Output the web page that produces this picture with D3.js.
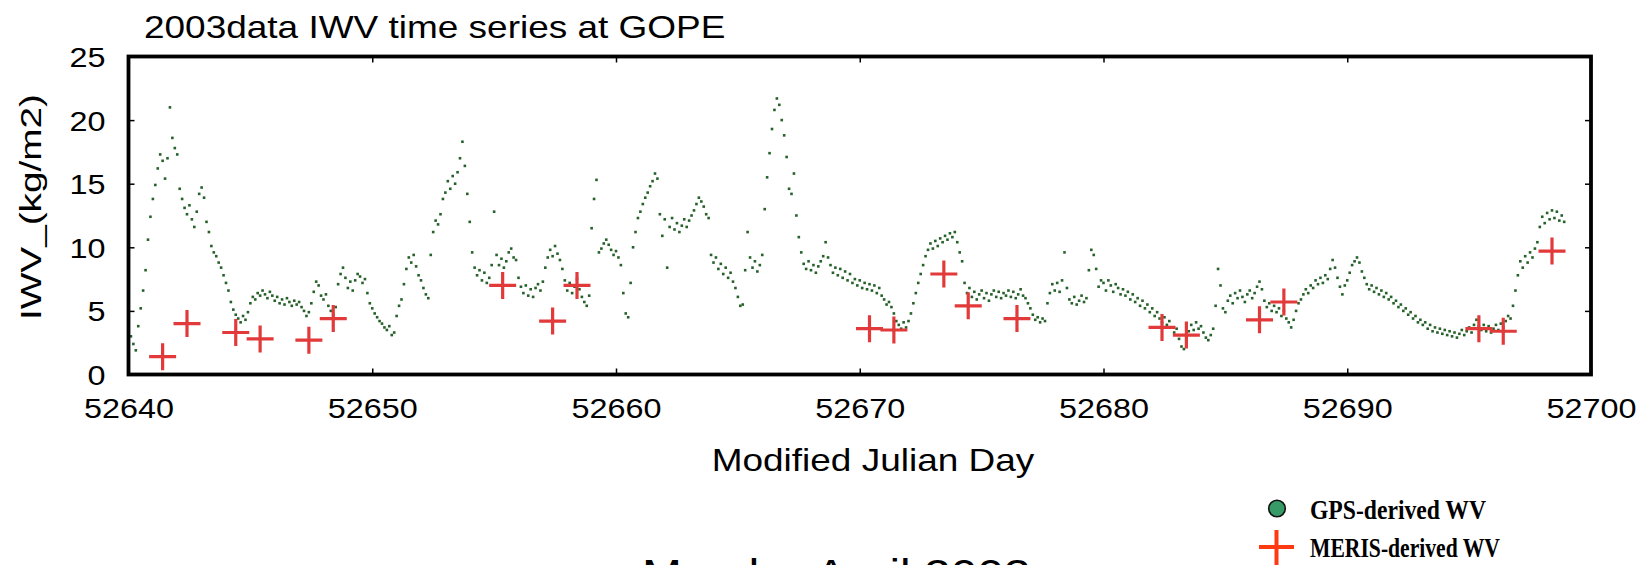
<!DOCTYPE html>
<html>
<head>
<meta charset="utf-8">
<script src="https://cdn.jsdelivr.net/npm/d3@7"></script>
<style>
  body { margin: 0; background: #fff; }
  svg { display: block; }
  .tick line { stroke: #000; stroke-width: 1.5; }
  .tick text { font-family: "Liberation Sans", Arial, sans-serif; font-size: 28px; fill: #000; }
</style>
</head>
<body>
<div id="chart"></div>
<script>
// time axis (Modified Julian Day) and IWV axis
var xTicks = [52640, 52650, 52660, 52670, 52680, 52690, 52700];
var yTicks = [0, 5, 10, 15, 20, 25];

// GPS IWV, 10 samples per day starting at 52640.0
var gpsStart = 52640;
var gpsPerDay = 10;
var gpsIWV = [
  3.4, 3.0, 2.4, 1.9, 3.8, 5.2, 6.6, 8.2, 10.6, 12.4,        // 52640
  13.8, 14.9, 16.2, 17.3, 16.8, 15.4, 17.0, 21.0, 18.6, 17.8, // 52641
  17.3, 14.6, 13.8, 13.1, 12.6, 13.3, 12.2, 11.6, 12.8, 14.2, // 52642
  14.7, 13.9, 12.0, 11.2, 10.1, 9.6, 9.3, 8.8, 8.4, 7.8,      // 52643
  7.2, 6.6, 5.7, 5.1, 4.7, 4.4, 4.1, 4.6, 4.3, 4.9,           // 52644
  5.6, 6.1, 5.9, 6.4, 6.2, 6.6, 6.3, 6.0, 6.5, 6.2,           // 52645
  5.8, 6.1, 5.6, 5.9, 5.5, 6.0, 5.7, 5.4, 5.8, 5.5,           // 52646
  5.7, 5.3, 5.0, 4.6, 4.9, 5.6, 6.5, 7.3, 7.0, 6.2,           // 52647
  5.9, 6.3, 5.4, 5.0, 4.7, 5.3, 7.1, 7.9, 8.4, 7.6,           // 52648
  6.8, 7.3, 6.6, 7.4, 7.9, 7.7, 7.2, 7.5, 6.4, 5.6,           // 52649
  5.2, 4.8, 4.5, 4.2, 4.0, 3.7, 3.5, 3.8, 3.1, 3.3,           // 52650
  4.6, 5.4, 5.9, 7.1, 8.3, 9.2, 8.8, 9.4, 8.5, 7.8,           // 52651
  7.4, 6.8, 6.3, 6.0, 9.4, 11.2, 12.1, 11.8, 12.6, 13.8,      // 52652
  14.3, 15.2, 14.6, 15.6, 15.0, 15.9, 17.0, 18.3, 16.4, 14.2, // 52653
  12.0, 9.6, 8.4, 7.8, 8.2, 7.4, 8.0, 7.2, 7.6, 8.6,          // 52654
  12.8, 9.4, 8.6, 9.1, 8.4, 8.9, 9.6, 9.9, 9.2, 9.0,          // 52655
  7.6, 6.9, 6.4, 7.0, 6.2, 6.7, 6.1, 6.8, 7.1, 6.6,           // 52656
  7.3, 8.4, 9.2, 9.8, 9.3, 10.1, 9.5, 9.0, 8.3, 7.4,          // 52657
  6.6, 7.2, 6.4, 6.9, 7.5, 6.7, 6.1, 5.7, 5.4, 6.2,           // 52658
  11.5, 13.8, 15.3, 9.6, 9.9, 10.3, 10.6, 10.2, 9.8, 9.4,     // 52659
  9.7, 9.2, 8.6, 6.4, 4.8, 4.5, 7.2, 10.0, 11.2, 12.3,        // 52660
  12.8, 13.4, 13.9, 14.3, 14.8, 15.2, 15.8, 15.4, 12.6, 10.9, // 52661
  12.2, 8.4, 11.6, 12.3, 11.4, 11.9, 11.2, 11.7, 12.2, 11.6,  // 52662
  12.1, 12.5, 12.9, 13.4, 13.9, 13.6, 13.2, 12.6, 12.3, 9.4,  // 52663
  8.8, 9.2, 8.3, 8.7, 7.9, 8.4, 7.6, 8.0, 7.3, 6.8,           // 52664
  6.1, 5.4, 5.5, 8.2, 11.2, 9.2, 8.4, 8.9, 8.1, 8.6,          // 52665
  9.4, 13.0, 15.5, 17.4, 19.3, 20.8, 21.7, 21.2, 20.0, 18.8,  // 52666
  17.1, 14.6, 14.2, 15.8, 12.5, 10.8, 9.6, 8.7, 8.3, 8.9,     // 52667
  8.2, 8.6, 8.0, 8.5, 8.9, 9.3, 10.4, 9.2, 8.6, 8.0,          // 52668
  8.4, 7.8, 8.3, 7.6, 8.1, 7.4, 7.9, 7.2, 7.5, 7.0,           // 52669
  7.4, 6.8, 7.2, 6.7, 7.1, 6.6, 7.0, 6.4, 6.8, 6.2,           // 52670
  5.9, 5.5, 5.7, 5.3, 4.8, 4.2, 3.9, 3.6, 4.1, 3.7,           // 52671
  4.2, 4.8, 5.6, 6.4, 7.2, 7.9, 8.6, 9.3, 9.8, 10.3,          // 52672
  9.9, 10.5, 10.1, 10.7, 10.4, 10.9, 10.6, 11.1, 10.8, 11.2,  // 52673
  10.4, 9.6, 8.9, 7.2, 6.4, 6.8, 6.1, 6.5, 5.9, 6.3,          // 52674
  6.6, 6.0, 6.4, 5.8, 6.3, 6.6, 6.1, 6.5, 6.0, 6.4,           // 52675
  6.2, 6.6, 6.1, 6.5, 6.0, 6.3, 6.7, 6.2, 6.0, 5.6,           // 52676
  5.2, 4.7, 4.3, 4.5, 4.1, 4.4, 4.2, 5.6, 6.4, 7.1,           // 52677
  6.6, 7.2, 6.5, 7.4, 9.6, 6.8, 5.9, 5.6, 6.1, 5.5,           // 52678
  5.8, 6.2, 5.7, 6.0, 8.2, 9.8, 9.4, 8.3, 6.9, 7.4,           // 52679
  7.2, 6.6, 7.4, 7.0, 6.5, 7.1, 6.8, 6.3, 6.7, 6.2,           // 52680
  6.5, 5.9, 6.3, 5.7, 6.0, 5.4, 5.8, 5.2, 5.5, 4.9,           // 52681
  5.2, 4.6, 4.9, 4.4, 4.1, 4.5, 3.9, 4.2, 3.7, 3.3,           // 52682
  3.6, 2.8, 2.2, 2.0, 2.6, 3.4, 3.9, 3.5, 4.1, 3.6,           // 52683
  3.8, 3.3, 2.9, 2.7, 3.1, 3.6, 5.4, 8.3, 7.0, 5.2,           // 52684
  4.9, 5.8, 6.2, 5.6, 6.4, 6.0, 6.6, 6.1, 5.7, 6.3,           // 52685
  6.6, 6.0, 6.4, 6.9, 7.3, 6.7, 5.8, 5.3, 5.6, 5.0,           // 52686
  5.4, 4.9, 5.2, 4.6, 5.0, 4.4, 4.1, 3.7, 4.3, 5.0,           // 52687
  5.6, 5.9, 6.3, 6.7, 6.4, 7.0, 6.8, 7.4, 7.1, 7.6,           // 52688
  7.2, 7.8, 7.5, 8.3, 9.0, 8.4, 7.6, 6.9, 6.3, 7.0,           // 52689
  7.4, 8.0, 8.6, 8.9, 9.2, 8.8, 8.1, 7.6, 7.1, 6.7,           // 52690
  7.0, 6.5, 6.8, 6.3, 6.6, 6.1, 6.4, 5.9, 6.1, 5.6,           // 52691
  5.8, 5.3, 5.5, 5.0, 5.2, 4.7, 4.9, 4.4, 4.6, 4.1,           // 52692
  4.3, 3.9, 4.1, 3.6, 3.9, 3.4, 3.7, 3.3, 3.6, 3.2,           // 52693
  3.5, 3.1, 3.4, 3.0, 3.3, 2.9, 3.2, 3.5, 3.1, 3.4,           // 52694
  3.7, 3.3, 3.9, 4.3, 3.8, 3.5, 3.9, 3.4, 3.8, 3.3,           // 52695
  3.6, 3.9, 3.5, 4.0, 3.7, 4.2, 4.6, 4.4, 5.4, 6.6,           // 52696
  7.8, 8.9, 8.4, 9.3, 8.8, 9.6, 9.2, 9.9, 10.4, 11.6,         // 52697
  12.4, 11.9, 12.7, 12.2, 12.9, 12.3, 12.8, 12.1, 12.5, 12.0  // 52698
];

// MERIS overpasses
var merisDay = [52641.4, 52642.4, 52644.4, 52645.4, 52647.4, 52648.4, 52655.35,
                52657.4, 52658.4, 52670.4, 52671.4, 52673.45, 52674.45, 52676.45,
                52682.4, 52683.4, 52686.4, 52687.4, 52695.4, 52696.4, 52698.4];
var merisIWV = [1.4, 4.0, 3.3, 2.8, 2.7, 4.4, 7.0,
                4.2, 7.0, 3.6, 3.5, 7.9, 5.4, 4.4,
                3.7, 3.1, 4.3, 5.7, 3.6, 3.4, 9.7];

var legendLabels = ["GPS-derived WV", "MERIS-derived WV"];
var legendWidths = [176, 190];

var W = 1641, H = 565;
var plot = {left: 128.5, right: 1591, top: 56.5, bottom: 374.5};
var stretchK = 1.155;   // the source fonts are drawn a bit wide

var svg = d3.select("#chart").append("svg")
    .attr("width", W)
    .attr("height", H)
    .style("background", "#fff");

var x = d3.scaleLinear().domain([52640, 52700]).range([plot.left, plot.right]);
var y = d3.scaleLinear().domain([0, 25]).range([plot.bottom, plot.top]);

// widen text like the original (Arial drawn wide)
function stretch(sel, k) {
  sel.each(function() {
    var w = this.getComputedTextLength();
    d3.select(this).attr("textLength", w * k).attr("lengthAdjust", "spacingAndGlyphs");
  });
}

// gps points
var gps = gpsIWV.map(function(v, i) { return {d: gpsStart + i / gpsPerDay, v: v}; });
svg.append("g")
    .selectAll("rect")
    .data(gps)
    .enter().append("rect")
      .attr("x", function(d) { return x(d.d) - 1.3; })
      .attr("y", function(d) { return y(d.v) - 1.3; })
      .attr("width", 2.6)
      .attr("height", 2.6)
      .attr("fill", "#26612a");

// meris crosses
var meris = merisDay.map(function(d, i) { return {d: d, v: merisIWV[i]}; });
svg.append("g").selectAll("path")
    .data(meris)
    .enter().append("path")
      .attr("d", function(d) {
        var cx = x(d.d), cy = y(d.v), r = 13.5;
        return "M" + (cx - r) + "," + cy + "H" + (cx + r) + "M" + cx + "," + (cy - r) + "V" + (cy + r);
      })
      .attr("stroke", "#e23a3a")
      .attr("stroke-width", 3.2)
      .attr("fill", "none");

// axes with inward ticks
var xAxis = svg.append("g")
    .attr("transform", "translate(0," + plot.bottom + ")")
    .call(d3.axisBottom(x).tickValues(xTicks).tickSize(-6).tickFormat(d3.format("d")));
xAxis.select(".domain").remove();
xAxis.selectAll("text").attr("y", 43).attr("dy", 0);
stretch(xAxis.selectAll("text"), stretchK);

var xTop = svg.append("g")
    .attr("transform", "translate(0," + plot.top + ")")
    .call(d3.axisTop(x).tickValues(xTicks).tickSize(-6).tickFormat(""));
xTop.select(".domain").remove();

var yAxis = svg.append("g")
    .attr("transform", "translate(" + plot.left + ",0)")
    .call(d3.axisLeft(y).tickValues(yTicks).tickSize(-6));
yAxis.select(".domain").remove();
yAxis.selectAll("text").attr("x", -23).attr("dy", "0.36em");
stretch(yAxis.selectAll("text"), stretchK);

var yRight = svg.append("g")
    .attr("transform", "translate(" + plot.right + ",0)")
    .call(d3.axisRight(y).tickValues(yTicks).tickSize(-6).tickFormat(""));
yRight.select(".domain").remove();

// frame
svg.append("rect")
    .attr("x", plot.left)
    .attr("y", plot.top)
    .attr("width", plot.right - plot.left)
    .attr("height", plot.bottom - plot.top)
    .attr("fill", "none")
    .attr("stroke", "#000")
    .attr("stroke-width", 3.8);

// titles
var sans = "'Liberation Sans', Arial, sans-serif";
var title = svg.append("text")
    .attr("x", 144)
    .attr("y", 38)
    .style("font-family", sans)
    .style("font-size", "32px")
    .text("2003data IWV time series at GOPE");
stretch(title, stretchK);

var xLabel = svg.append("text")
    .attr("x", 873)
    .attr("y", 471)
    .attr("text-anchor", "middle")
    .style("font-family", sans)
    .style("font-size", "32px")
    .text("Modified Julian Day");
stretch(xLabel, stretchK);

svg.append("text")
    .attr("transform", "translate(41,207)rotate(-90)")
    .attr("text-anchor", "middle")
    .attr("textLength", 226)
    .attr("lengthAdjust", "spacingAndGlyphs")
    .style("font-family", sans)
    .style("font-size", "30px")
    .text("IWV_(kg/m2)");

// caption cut by the page edge
var caption = svg.append("text")
    .attr("x", 642)
    .attr("y", 589)
    .style("font-family", sans)
    .style("font-size", "42px")
    .text("March - April 2003");
stretch(caption, 1.14);

// legend
var serif = "'Liberation Serif', 'Times New Roman', serif";
svg.append("circle")
    .attr("cx", 1277)
    .attr("cy", 508.5)
    .attr("r", 8.3)
    .attr("fill", "#379b67")
    .attr("stroke", "#111")
    .attr("stroke-width", 1.6);
svg.append("path")
    .attr("d", "M1259,547H1294M1276.5,530V565")
    .attr("stroke", "#ff3a12")
    .attr("stroke-width", 4)
    .attr("fill", "none");
svg.selectAll(".leg")
    .data(legendLabels)
    .enter().append("text")
      .attr("class", "leg")
      .attr("x", 1310)
      .attr("y", function(d, i) { return 519 + i * 38; })
      .attr("textLength", function(d, i) { return legendWidths[i]; })
      .attr("lengthAdjust", "spacingAndGlyphs")
      .style("font-family", serif)
      .style("font-size", "27px")
      .style("font-weight", "bold")
      .text(function(d) { return d; });
</script>
</body>
</html>
